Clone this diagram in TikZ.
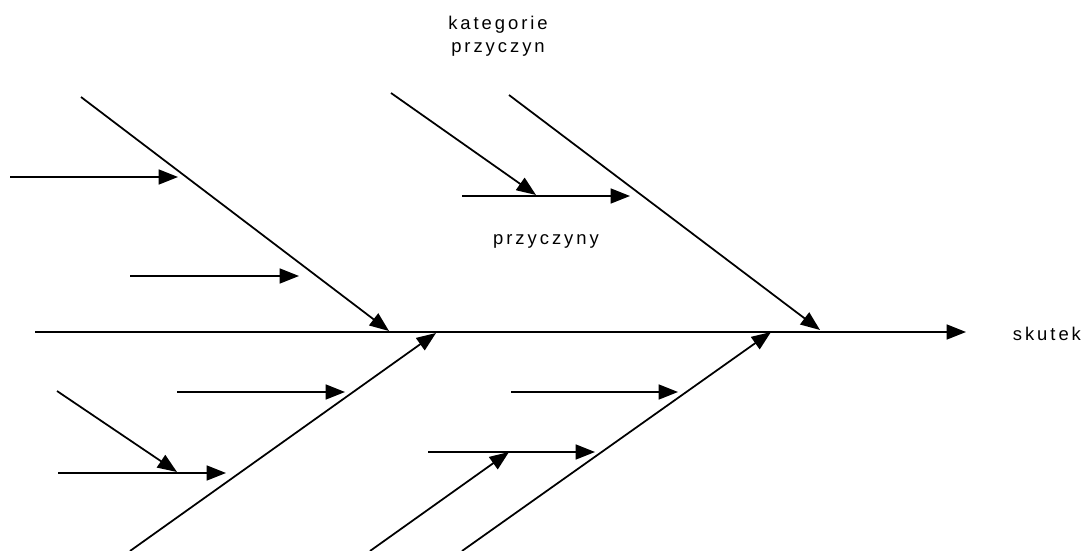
\documentclass[tikz,border=0pt]{standalone}
\usepackage{fontspec}
\setmainfont{Liberation Sans}[LetterSpace=16]
\usepackage{tikz}
\usetikzlibrary{arrows.meta}

\begin{document}
\begin{tikzpicture}[x=0.02cm,y=-0.02cm,line width=1pt,
    every node/.style={font=\fontsize{10.5}{13}\selectfont,inner sep=0pt},
    cause/.style={-{Triangle[length=11pt,width=8.5pt]}}]
  \useasboundingbox (0,0) rectangle (1090,551);
  % spine and effect
  \coordinate (tail) at (35,332);
  \coordinate (head) at (966,332);
  \node[anchor=west] (effect) at (1012,334) {skutek};
  \draw[cause] (tail) -- (head);
  % main bones
  \coordinate (UL0) at (81,97);   \coordinate (UL1) at (389,331);
  \coordinate (UR0) at (509,95);  \coordinate (UR1) at (820,330);
  \coordinate (LL0) at (130,551); \coordinate (LL1) at (436,333);
  \coordinate (LR0) at (462,551); \coordinate (LR1) at (771,332);
  \draw[cause] (UL0) -- (UL1);
  \draw[cause] (UR0) -- (UR1);
  \draw[cause] (LL0) -- (LL1);
  \draw[cause] (LR0) -- (LR1);
  % small causes
  \coordinate (a0) at (10,177);  \coordinate (a1) at (178,177);
  \coordinate (b0) at (130,276); \coordinate (b1) at (299,276);
  \coordinate (c0) at (391,93);  \coordinate (c1) at (536,195);
  \coordinate (d0) at (462,196); \coordinate (d1) at (630,196);
  \coordinate (e0) at (177,392); \coordinate (e1) at (345,392);
  \coordinate (f0) at (57,391);  \coordinate (f1) at (177,472);
  \coordinate (g0) at (58,473);  \coordinate (g1) at (226,473);
  \coordinate (h0) at (511,392); \coordinate (h1) at (678,392);
  \coordinate (i0) at (428,452); \coordinate (i1) at (595,452);
  \coordinate (j0) at (370,551); \coordinate (j1) at (509,452);
  \foreach \c in {a,b,c,d,e,f,g,h,i,j}
    \draw[cause] (\c0) -- (\c1);
  % labels
  \node[align=center] (kat) at (498,36) {kategorie\\przyczyn};
  \node (prz) at (546,241) {przyczyny};
\end{tikzpicture}
\end{document}
